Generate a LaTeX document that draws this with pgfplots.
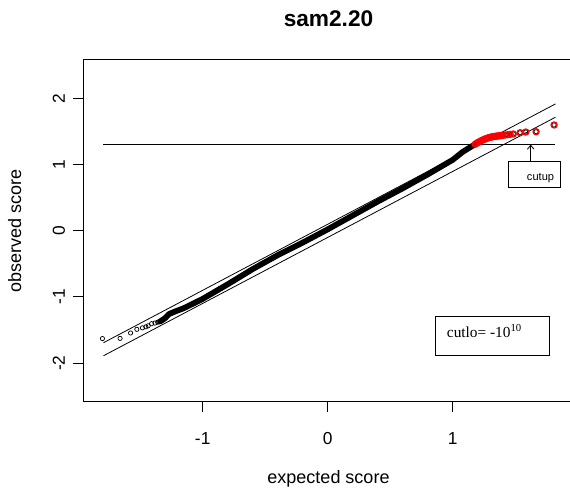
\documentclass[border=0pt]{standalone}
\usepackage{pgfplots}
\pgfplotsset{compat=1.18}
\usepackage{pgfplotstable}
\usepackage{fontspec}
\setmainfont{Liberation Sans}
\newfontfamily\seriffont{Liberation Serif}
\usetikzlibrary{arrows.meta}

\pgfplotstableread{
x y
-1.802 -1.630
-1.661 -1.627
-1.577 -1.545
-1.527 -1.490
-1.482 -1.468
-1.455 -1.452
-1.436 -1.437
-1.409 -1.405
-1.382 -1.395
-1.360 -1.382
-1.350 -1.377
}\tailtab

\pgfplotstableread{
x y
-1.34 -1.371
-1.33 -1.358
-1.32 -1.346
-1.31 -1.333
-1.30 -1.320
-1.29 -1.300
-1.28 -1.280
-1.27 -1.260
-1.26 -1.252
-1.25 -1.244
-1.24 -1.236
-1.23 -1.228
-1.22 -1.220
-1.20 -1.206
-1.18 -1.191
-1.16 -1.177
-1.14 -1.161
-1.12 -1.142
-1.10 -1.123
-1.08 -1.105
-1.06 -1.086
-1.04 -1.067
-1.02 -1.049
-1.00 -1.030
-0.98 -1.008
-0.96 -0.986
-0.94 -0.964
-0.92 -0.942
-0.90 -0.920
-0.88 -0.898
-0.86 -0.876
-0.84 -0.854
-0.82 -0.832
-0.80 -0.810
-0.78 -0.787
-0.76 -0.764
-0.74 -0.741
-0.72 -0.718
-0.70 -0.695
-0.68 -0.672
-0.66 -0.649
-0.64 -0.626
-0.62 -0.603
-0.60 -0.580
-0.58 -0.559
-0.56 -0.538
-0.54 -0.517
-0.52 -0.496
-0.50 -0.475
-0.48 -0.454
-0.46 -0.433
-0.44 -0.412
-0.42 -0.391
-0.40 -0.370
-0.38 -0.351
-0.36 -0.332
-0.34 -0.313
-0.32 -0.294
-0.30 -0.275
-0.28 -0.256
-0.26 -0.237
-0.24 -0.218
-0.22 -0.199
-0.20 -0.180
-0.18 -0.160
-0.16 -0.140
-0.14 -0.120
-0.12 -0.100
-0.10 -0.080
-0.08 -0.060
-0.06 -0.040
-0.04 -0.020
-0.02 0.000
0.00 0.020
0.02 0.041
0.04 0.062
0.06 0.083
0.08 0.104
0.10 0.125
0.12 0.146
0.14 0.167
0.16 0.188
0.18 0.209
0.20 0.230
0.22 0.251
0.24 0.272
0.26 0.293
0.28 0.314
0.30 0.335
0.32 0.356
0.34 0.377
0.36 0.398
0.38 0.419
0.40 0.440
0.42 0.460
0.44 0.480
0.46 0.500
0.48 0.520
0.50 0.540
0.52 0.560
0.54 0.580
0.56 0.600
0.58 0.620
0.60 0.640
0.62 0.661
0.64 0.682
0.66 0.703
0.68 0.724
0.70 0.745
0.72 0.766
0.74 0.787
0.76 0.808
0.78 0.829
0.80 0.850
0.82 0.872
0.84 0.894
0.86 0.916
0.88 0.938
0.90 0.960
0.92 0.982
0.94 1.004
0.96 1.026
0.98 1.048
1.00 1.070
1.02 1.100
1.04 1.130
1.06 1.160
1.08 1.190
1.10 1.213
1.12 1.237
1.14 1.260
1.16 1.283
1.17 1.295
}\densetab

\pgfplotstableread{
x y
1.18 1.306
1.19 1.318
1.20 1.330
1.21 1.340
1.22 1.350
1.23 1.360
1.24 1.370
1.25 1.378
1.26 1.385
1.27 1.393
1.28 1.400
1.29 1.405
1.30 1.410
1.31 1.415
1.32 1.420
1.33 1.423
1.34 1.425
}\reddensetab

\pgfplotstableread{
x y
1.18 1.306
1.19 1.318
1.20 1.330
1.21 1.340
1.22 1.350
1.23 1.360
1.24 1.370
1.25 1.378
1.26 1.385
1.27 1.393
1.28 1.400
1.29 1.405
1.30 1.410
1.31 1.415
1.32 1.420
1.33 1.423
1.34 1.425
1.35 1.428
1.36 1.430
1.37 1.433
1.38 1.435
1.39 1.438
1.40 1.440
1.42 1.445
1.44 1.450
1.46 1.455
1.485 1.461
1.539 1.480
1.585 1.490
1.667 1.495
1.811 1.597
}\redtab

\begin{document}
\begin{tikzpicture}
\useasboundingbox (-63pt,-68.4pt) rectangle (364.5pt,301.35pt);
\begin{axis}[
  at={(0,0)}, anchor=south west,
  scale only axis, width=366.75pt, height=256.875pt,
  xmin=-1.9496, xmax=1.9624, ymin=-2.585, ymax=2.589,
  xtick={-1,0,1}, xticklabels={-1,0,1},
  ytick={-2,-1,0,1,2}, yticklabels={-2,-1,0,1,2},
  tick align=outside, tick pos=left, major tick length=8pt,
  tick style={black, line width=0.75pt},
  axis line style={line width=0.75pt},
  tick label style={font=\fontsize{13}{15}\selectfont},
  xticklabel style={anchor=base},
  yticklabel style={rotate=90, anchor=base},
  xticklabel shift=23.65pt,
  yticklabel shift=6.25pt,
  every axis x label/.style={at={(axis description cs:0.5,-0.2371)}, anchor=base, font=\fontsize{13.5}{16}\selectfont},
  every axis y label/.style={at={(axis description cs:-0.1288,0.5)}, rotate=90, anchor=base, font=\fontsize{13.5}{16}\selectfont},
  every axis title/.style={at={(axis description cs:0.5,1.0952)}, anchor=base, font=\fontsize{17}{20}\selectfont\bfseries},
  xlabel={expected score},
  ylabel={observed score},
  title={sam2.20},
  clip=false,
]
% dense band of overlapping open circles
\addplot[black, line width=4.3pt, line cap=round, line join=round] table {\densetab};
\addplot[only marks, mark=o, mark size=1.6pt, mark options={line width=0.55pt, black}] table {\tailtab};
\addplot[only marks, mark=o, mark size=1.6pt, mark options={line width=0.55pt, black}] table {\densetab};
\addplot[only marks, mark=o, mark size=1.6pt, mark options={line width=0.55pt, black}] table {\redtab};
\addplot[black, line width=0.6pt] coordinates {(-1.794,-1.693) (1.822,1.915)};
\addplot[black, line width=0.6pt] coordinates {(-1.794,-1.890) (1.822,1.714)};
\addplot[black, line width=0.6pt] coordinates {(-1.794,1.305) (1.822,1.305)};
\addplot[red, line width=3.6pt, line cap=round, line join=round] table {\reddensetab};
\addplot[only marks, mark=o, mark size=2.3pt, mark options={line width=0.9pt, red}] table {\redtab};
\draw[line width=0.6pt] (axis cs:1.448,0.655) rectangle (axis cs:1.858,1.042);
\node[anchor=base east, inner sep=0pt, font=\fontsize{8.3}{10}\selectfont] at (axis cs:1.813,0.755) {cutup};
\draw[line width=0.6pt, -{Straight Barb[length=3pt,width=5pt]}] (axis cs:1.624,1.042) -- (axis cs:1.624,1.300);
\draw[line width=0.6pt] (axis cs:0.862,-1.289) rectangle (axis cs:1.774,-1.878);
\node[anchor=base west, inner sep=0pt, font=\seriffont\fontsize{11.5}{13}\selectfont] at (axis cs:0.952,-1.616) {cutlo=\hspace{0.25em}-10\textsuperscript{10}};
\end{axis}
\end{tikzpicture}
\end{document}
